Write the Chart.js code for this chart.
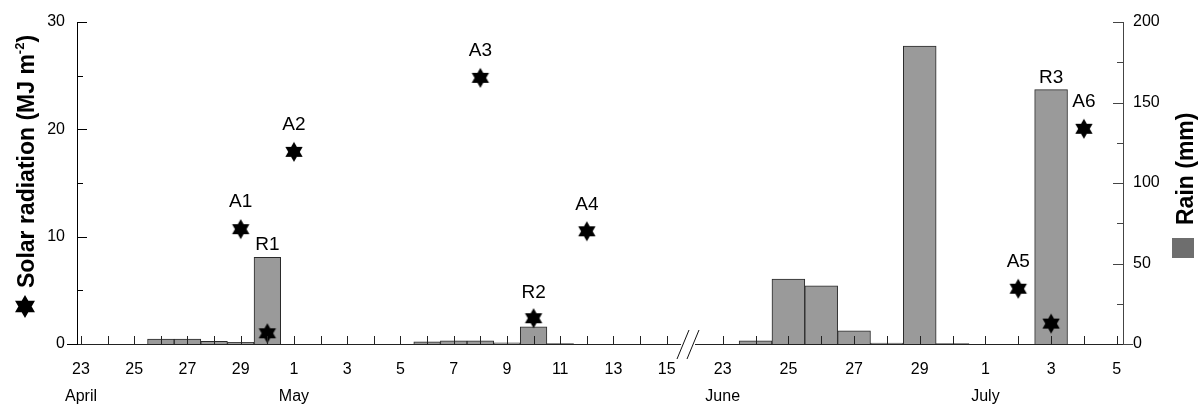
<!DOCTYPE html>
<html>
<head>
<meta charset="utf-8">
<title>Solar radiation and rain</title>
<script src="https://cdn.jsdelivr.net/npm/chart.js@4.4.1/dist/chart.umd.min.js"></script>
<style>
  html, body { margin: 0; padding: 0; background: #fff; }
  canvas { display: block; }
</style>
</head>
<body>
<canvas id="chart" width="1200" height="408"></canvas>
<script>
// Part 1: April 23 .. May 15
const days1 = [23, 24, 25, 26, 27, 28, 29, 30, 1, 2, 3, 4, 5, 6, 7, 8, 9, 10, 11, 12, 13, 14, 15];
const months1 = { 0: 'April', 8: 'May' };
const rain1 = [0, 0, 0, 3.1, 3.1, 1.7, 1.0, 53.9, 0, 0, 0, 0, 0, 1.4, 2.0, 2.0, 0.8, 10.7, 0.3, 0, 0, 0, 0];
const solar1 = [null, null, null, null, null, null, 10.7, 1.0, 17.9, null, null, null, null, null, null, 24.8, null, 2.4, null, 10.5, null, null, null];
const solarNotes1 = { 6: 'A1', 8: 'A2', 15: 'A3', 19: 'A4' };
const rainNotes1 = { 7: 'R1', 17: 'R2' };

// Part 2: June 23 .. July 5
const days2 = [23, 24, 25, 26, 27, 28, 29, 30, 1, 2, 3, 4, 5];
const months2 = { 0: 'June', 8: 'July' };
const rain2 = [0, 1.9, 40.3, 36.2, 8.2, 0.6, 185, 0.3, 0, 0, 158, 0, 0];
const solar2 = [null, null, null, null, null, null, null, null, null, 5.15, 1.9, 20.05, null];
const solarNotes2 = { 9: 'A5', 11: 'A6' };
const rainNotes2 = { 10: 'R3' };

// y axis ticks
const solarTicks = [0, 5, 10, 15, 20, 25, 30];
const rainTicks = [0, 25, 50, 75, 100, 125, 150, 175, 200];

const FONT = "'Liberation Sans', Arial, sans-serif";
Chart.defaults.font.family = FONT;
Chart.defaults.color = '#000';

// filled six pointed star
function drawHexagram(g, x, y, r) {
  g.beginPath();
  [-90, 90].forEach(start => {
    for (let k = 0; k < 3; k++) {
      const a = (start + k * 120) * Math.PI / 180;
      const px = x + r * Math.cos(a);
      const py = y + r * Math.sin(a);
      if (k === 0) g.moveTo(px, py); else g.lineTo(px, py);
    }
    g.closePath();
  });
  g.fillStyle = '#000';
  g.fill();
}

function starImage(r) {
  const c = document.createElement('canvas');
  c.width = c.height = Math.ceil(r * 2 + 2);
  drawHexagram(c.getContext('2d'), c.width / 2, c.height / 2, r);
  return c;
}
const star = starImage(10);

const toPoints = arr => arr.map((v, i) => ({ x: i, y: v || null }));

function dayLabel(days, months, value) {
  const i = Math.round(value);
  const d = i % 2 === 0 ? String(days[i]) : '';
  return months[i] ? [d, months[i]] : d;
}

function xScale(days, months, weight, min, max) {
  return {
    type: 'linear',
    position: 'bottom',
    stack: 'days',
    stackWeight: weight,
    min: min,
    max: max,
    offset: false,
    grid: { display: false, drawTicks: false },
    border: { color: '#222' },
    afterBuildTicks: s => { s.ticks = days.map((d, i) => ({ value: i })); },
    afterFit: s => { s.height = 64; },
    ticks: {
      autoSkip: false,
      maxRotation: 0,
      minRotation: 0,
      padding: 12,
      font: { size: 16, lineHeight: 1.7 },
      callback: v => dayLabel(days, months, v)
    }
  };
}

// inward tick marks, like the original plot
const axisTicks = {
  id: 'axisTicks',
  afterDatasetsDraw(chart) {
    const ctx = chart.ctx;
    const { x1, x2, ySolar, yRain } = chart.scales;
    ctx.save();
    ctx.lineWidth = 1;

    // gap in the x axis + break marks
    const bx = x1.right;
    ctx.fillStyle = '#fff';
    ctx.fillRect(bx - 7, x1.top - 2, 14, 4);
    ctx.strokeStyle = '#111';
    ctx.beginPath();
    [-5, 5].forEach(dx => {
      ctx.moveTo(bx + dx - 6, x1.top + 15);
      ctx.lineTo(bx + dx + 6, x1.top - 14);
    });
    ctx.stroke();

    ctx.strokeStyle = '#222';
    ctx.beginPath();
    [x1, x2].forEach(s => s.ticks.forEach(t => {
      const px = Math.round(s.getPixelForValue(t.value)) + 0.5;
      ctx.moveTo(px, s.top);
      ctx.lineTo(px, s.top - 8);
    }));
    ctx.stroke();

    ctx.strokeStyle = '#000';
    ctx.beginPath();
    ySolar.ticks.forEach(t => {
      const py = Math.round(ySolar.getPixelForValue(t.value)) + 0.5;
      const len = t.value % 10 === 0 ? 10 : 6;
      ctx.moveTo(ySolar.right, py);
      ctx.lineTo(t.value === 0 ? ySolar.right - 10 : ySolar.right + len, py);
    });
    ctx.stroke();

    ctx.strokeStyle = '#444';
    ctx.beginPath();
    yRain.ticks.forEach(t => {
      const py = Math.round(yRain.getPixelForValue(t.value)) + 0.5;
      const len = t.value % 50 === 0 ? 10 : 6;
      ctx.moveTo(yRain.left, py);
      ctx.lineTo(t.value === 0 ? yRain.left + 10 : yRain.left - len, py);
    });
    ctx.stroke();
    ctx.restore();
  }
};

// A1..A6 and R1..R3 labels
const notes = {
  id: 'notes',
  afterDatasetsDraw(chart) {
    const ctx = chart.ctx;
    ctx.save();
    ctx.font = '19px ' + FONT;
    ctx.fillStyle = '#000';
    ctx.textAlign = 'center';
    ctx.textBaseline = 'middle';
    [[0, 2, solarNotes1, rainNotes1], [1, 3, solarNotes2, rainNotes2]].forEach(([si, ri, sn, rn]) => {
      const stars = chart.getDatasetMeta(si).data;
      const bars = chart.getDatasetMeta(ri).data;
      Object.keys(sn).forEach(i => {
        const p = stars[i];
        ctx.fillText(sn[i], p.x, p.y - 27);
      });
      Object.keys(rn).forEach(i => {
        const b = bars[i];
        const p = stars[i];
        let y = b.y - 12;
        if (p && p.y != null && !isNaN(p.y)) y = Math.min(y, p.y - 25);
        ctx.fillText(rn[i], b.x, y);
      });
    });
    ctx.restore();
  }
};

// rotated axis titles with their symbols
const titles = {
  id: 'titles',
  afterDraw(chart) {
    const ctx = chart.ctx;
    const area = chart.chartArea;
    const { ySolar, yRain } = chart.scales;
    ctx.save();

    // left
    const lx = ySolar.left + 25;
    drawHexagram(ctx, lx, area.bottom - 37.5, 11.5);
    ctx.translate(lx, area.bottom - 56);
    ctx.rotate(-Math.PI / 2);
    ctx.fillStyle = '#000';
    ctx.textBaseline = 'alphabetic';
    ctx.textAlign = 'left';
    ctx.font = 'bold 23px ' + FONT;
    let u = 0;
    const main = 'Solar radiation (MJ m';
    ctx.fillText(main, u, 8.5);
    u += ctx.measureText(main).width;
    ctx.font = 'bold 13px ' + FONT;
    ctx.fillText('-2', u, -1);
    u += ctx.measureText('-2').width;
    ctx.font = 'bold 23px ' + FONT;
    ctx.fillText(')', u, 8.5);
    ctx.setTransform(1, 0, 0, 1, 0, 0);

    // right
    const rx = yRain.right - 17;
    ctx.fillStyle = '#6e6e6e';
    ctx.fillRect(rx - 11, area.bottom - 106, 22, 20);
    ctx.translate(rx + 1, area.bottom - 119);
    ctx.rotate(-Math.PI / 2);
    ctx.fillStyle = '#000';
    ctx.font = 'bold 23px ' + FONT;
    ctx.fillText('Rain (mm)', 0, 8.5);
    ctx.restore();
  }
};

const rainStyle = {
  type: 'bar',
  label: 'Rain',
  yAxisID: 'yRain',
  backgroundColor: '#9a9a9a',
  borderColor: '#2a2a2a',
  borderWidth: 1,
  barPercentage: 1,
  categoryPercentage: 1,
  grouped: false,
  order: 1
};

const solarStyle = {
  type: 'line',
  label: 'Solar radiation',
  yAxisID: 'ySolar',
  showLine: false,
  pointStyle: star,
  pointRadius: 10,
  order: 0
};

new Chart(document.getElementById('chart'), {
  type: 'bar',
  data: {
    datasets: [
      Object.assign({}, solarStyle, { data: toPoints(solar1), xAxisID: 'x1' }),
      Object.assign({}, solarStyle, { data: toPoints(solar2), xAxisID: 'x2' }),
      Object.assign({}, rainStyle, { data: toPoints(rain1), xAxisID: 'x1' }),
      Object.assign({}, rainStyle, { data: toPoints(rain2), xAxisID: 'x2' })
    ]
  },
  options: {
    responsive: false,
    animation: false,
    layout: { padding: { top: 22, left: 0, right: 0, bottom: 0 } },
    plugins: {
      legend: { display: false },
      tooltip: { enabled: false }
    },
    scales: {
      x1: xScale(days1, months1, 611, -0.15, 22.8),
      x2: xScale(days2, months2, 435, -1.057, 12.19),
      ySolar: {
        type: 'linear',
        position: 'left',
        min: 0,
        max: 30,
        grid: { display: false, drawTicks: false },
        border: { color: '#000' },
        afterBuildTicks: s => { s.ticks = solarTicks.map(v => ({ value: v })); },
        afterFit: s => { s.width = 77; },
        ticks: { padding: 12, font: { size: 16 }, callback: v => (v % 10 === 0 ? v : '') }
      },
      yRain: {
        type: 'linear',
        position: 'right',
        min: 0,
        max: 200,
        grid: { display: false, drawTicks: false },
        border: { color: '#444' },
        afterBuildTicks: s => { s.ticks = rainTicks.map(v => ({ value: v })); },
        afterFit: s => { s.width = 77; },
        ticks: { padding: 10, font: { size: 16 }, callback: v => (v % 50 === 0 ? v : '') }
      }
    }
  },
  plugins: [axisTicks, notes, titles]
});
</script>
</body>
</html>
